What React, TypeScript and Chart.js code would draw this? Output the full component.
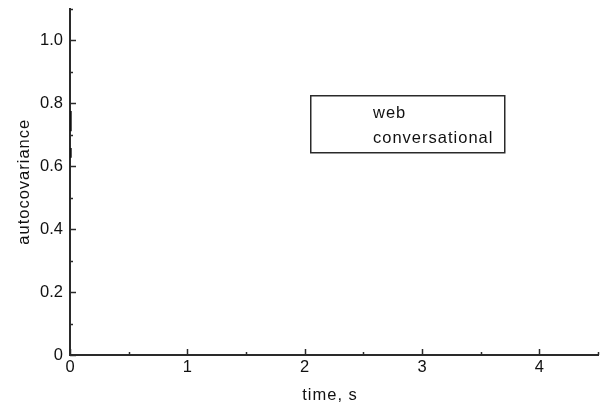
import { useEffect, useRef } from "react";
import { Chart, registerables } from "chart.js";

Chart.register(...registerables);

// ---- data ----
const seriesNames = ["web", "conversational"];
const webTime = [0.006, 0.006];
const webAutocov = [0.775, 0.71];
const convTime = [0.006, 0.006];
const convAutocov = [0.657, 0.626];

const xMajorTicks = [0, 1, 2, 3, 4];
const xMinorTicks = [0.5, 1.5, 2.5, 3.5, 4.5];
const xTickLabels = ["0", "1", "2", "3", "4"];
const yMajorTicks = [0, 0.2, 0.4, 0.6, 0.8, 1.0];
const yMinorTicks = [0.1, 0.3, 0.5, 0.7, 0.9, 1.1];
const yTickLabels = ["0", "0.2", "0.4", "0.6", "0.8", "1.0"];
const xTitle = "time, s";
const yTitle = "autocovariance";

// ---- style ----
const FONT_FAMILY = "'Liberation Sans', Arial, Helvetica, sans-serif";
const FONT_SIZE = 16.5;
const INK = "#111";
const AXIS = "#2a2a2a";

const decorPlugin = {
  id: "decor",
  afterDraw(chart: any) {
    const ctx = chart.ctx as CanvasRenderingContext2D;
    const xs = chart.scales.x;
    const ys = chart.scales.y;
    const area = chart.chartArea;
    ctx.save();
    // inward tick marks
    ctx.strokeStyle = AXIS;
    ctx.lineWidth = 1.5;
    const drawX = (v: number, len: number) => {
      const px = Math.round(xs.getPixelForValue(v)) + 0.5;
      ctx.beginPath();
      ctx.moveTo(px, area.bottom);
      ctx.lineTo(px, area.bottom - len);
      ctx.stroke();
    };
    const drawY = (v: number, len: number) => {
      const py = Math.round(ys.getPixelForValue(v)) + 0.5;
      ctx.beginPath();
      ctx.moveTo(area.left, py);
      ctx.lineTo(area.left + len, py);
      ctx.stroke();
    };
    xMajorTicks.forEach((v) => drawX(v, 6));
    xMinorTicks.forEach((v) => drawX(v, 3));
    yMajorTicks.forEach((v) => drawY(v, 6));
    yMinorTicks.forEach((v) => drawY(v, 3));

    // axis titles
    ctx.fillStyle = INK;
    ctx.font = `${FONT_SIZE}px ${FONT_FAMILY}`;
    (ctx as any).letterSpacing = "1px";
    ctx.textAlign = "center";
    ctx.textBaseline = "alphabetic";
    ctx.fillText(xTitle, (area.left + area.right) / 2 - 4, 400);
    ctx.save();
    ctx.translate(29, (area.top + area.bottom) / 2);
    ctx.rotate(-Math.PI / 2);
    ctx.fillText(yTitle, 0, 0);
    ctx.restore();

    // legend box
    ctx.strokeStyle = AXIS;
    ctx.lineWidth = 1.5;
    ctx.strokeRect(310.75, 95.75, 194, 57);
    ctx.textAlign = "left";
    ctx.fillText(seriesNames[0], 373, 118);
    ctx.fillText(seriesNames[1], 373, 142.5);
    ctx.restore();
  },
};

export default function App() {
  const ref = useRef<HTMLCanvasElement | null>(null);

  useEffect(() => {
    if (!ref.current) return;
    const font = { family: FONT_FAMILY, size: FONT_SIZE };
    const chart = new Chart(ref.current, {
      type: "scatter",
      data: {
        datasets: [
          {
            label: seriesNames[0],
            data: webTime.map((t, i) => ({ x: t, y: webAutocov[i] })),
            showLine: true,
            borderColor: "#111",
            borderWidth: 2,
            pointRadius: 0,
          },
          {
            label: seriesNames[1],
            data: convTime.map((t, i) => ({ x: t, y: convAutocov[i] })),
            showLine: true,
            borderColor: "#111",
            borderWidth: 2,
            pointRadius: 0,
          },
        ],
      },
      options: {
        animation: false,
        responsive: false,
        devicePixelRatio: 1,
        layout: { padding: { top: 8.5, right: 5, left: 0, bottom: 0 } },
        plugins: {
          legend: { display: false },
          tooltip: { enabled: false },
        },
        scales: {
          x: {
            type: "linear",
            min: 0,
            max: 4.5,
            afterBuildTicks: (s: any) => {
              s.ticks = xMajorTicks.map((v) => ({ value: v }));
            },
            afterFit: (s: any) => {
              s.height = 51;
              s.paddingLeft = 0;
              s.paddingRight = 0;
            },
            ticks: {
              callback: (_v: any, i: number) => xTickLabels[i],
              font,
              color: INK,
              padding: 3,
              maxRotation: 0,
              autoSkip: false,
            },
            grid: { display: false, drawTicks: false },
            border: { display: true, color: AXIS, width: 2 },
          },
          y: {
            type: "linear",
            min: 0,
            max: 1.1,
            afterBuildTicks: (s: any) => {
              s.ticks = yMajorTicks.map((v) => ({ value: v }));
            },
            afterFit: (s: any) => {
              s.width = 70;
              s.paddingTop = 0;
              s.paddingBottom = 0;
            },
            ticks: {
              callback: (_v: any, i: number) => yTickLabels[i],
              font,
              color: INK,
              padding: 7,
              autoSkip: false,
            },
            grid: { display: false, drawTicks: false },
            border: { display: true, color: AXIS, width: 2 },
          },
        },
      },
      plugins: [decorPlugin],
    } as any);
    return () => chart.destroy();
  }, []);

  return (
    <div style={{ position: "fixed", left: 0, top: 0, width: 603, height: 406, background: "#fff" }}>
      <canvas ref={ref} width={603} height={406} style={{ display: "block" }} />
    </div>
  );
}
